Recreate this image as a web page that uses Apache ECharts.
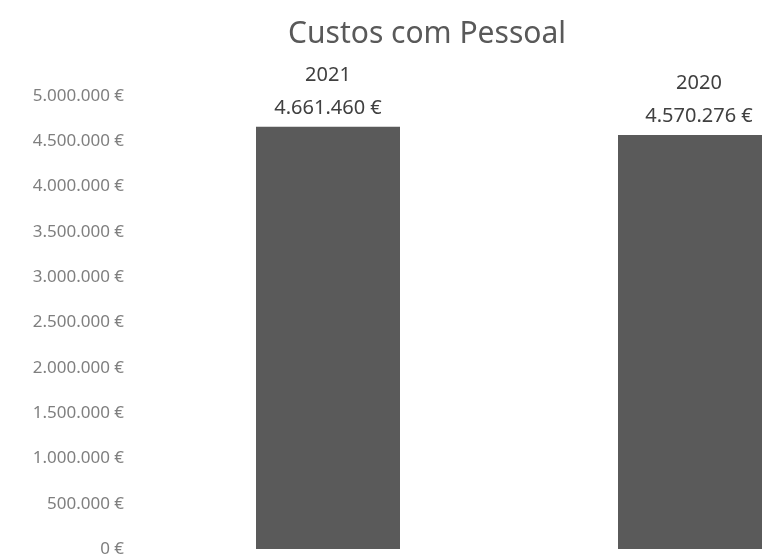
<!DOCTYPE html>
<html>
<head>
<meta charset="utf-8">
<script src="https://cdn.jsdelivr.net/npm/echarts@6/dist/echarts.min.js"></script>
<style>
  html, body { margin: 0; padding: 0; background: #fff; }
  #main { width: 764px; height: 556px; }
</style>
</head>
<body>
<div id="main"></div>
<script>
// chart data
var anos = ['2021', '2020'];
var custos = [4661460, 4570276];
var yTicks = [0, 500000, 1000000, 1500000, 2000000, 2500000, 3000000, 3500000, 4000000, 4500000, 5000000];

function euro(v) {
    return String(v).replace(/\B(?=(\d{3})+(?!\d))/g, '.');
}

var myChart = echarts.init(document.getElementById('main'));

// label of the last bar sits a bit to the right, like in the original
var barData = custos.map(function (v, i) {
    return {
        value: v,
        label: { offset: [i === custos.length - 1 ? 9 : 0, 0] }
    };
});

option = {
    backgroundColor: '#ffffff',
    title: {
        text: 'Custos com Pessoal',
        left: 422,
        top: 14,
        textAlign: 'center',
        textStyle: {
            fontFamily: 'Noto Sans',
            fontSize: 30,
            fontWeight: 'normal',
            color: '#595959'
        }
    },
    grid: {
        left: 147,
        width: 724,
        top: 96,
        bottom: 7,
        containLabel: false,
        outerBoundsMode: 'none'
    },
    xAxis: {
        type: 'category',
        data: anos,
        axisLine: { show: false },
        axisTick: { show: false },
        axisLabel: { show: false }
    },
    yAxis: {
        type: 'value',
        min: yTicks[0],
        max: yTicks[yTicks.length - 1],
        interval: 500000,
        splitLine: { show: false },
        axisLine: { show: false },
        axisTick: { show: false },
        axisLabel: {
            margin: 23,
            fontFamily: 'Noto Sans',
            fontSize: 17,
            color: '#7f7f7f',
            formatter: function (v) { return euro(v) + ' €'; }
        }
    },
    series: [
        {
            name: 'Custos com Pessoal',
            type: 'bar',
            data: barData,
            barWidth: 144,
            itemStyle: { color: '#5a5a5a' },
            label: {
                show: true,
                position: 'top',
                distance: 2,
                fontFamily: 'Noto Sans',
                fontSize: 20,
                lineHeight: 33,
                color: '#404040',
                formatter: function (p) { return p.name + '\n' + euro(p.value) + ' €'; }
            }
        }
    ]
};

myChart.setOption(option);
</script>
</body>
</html>
